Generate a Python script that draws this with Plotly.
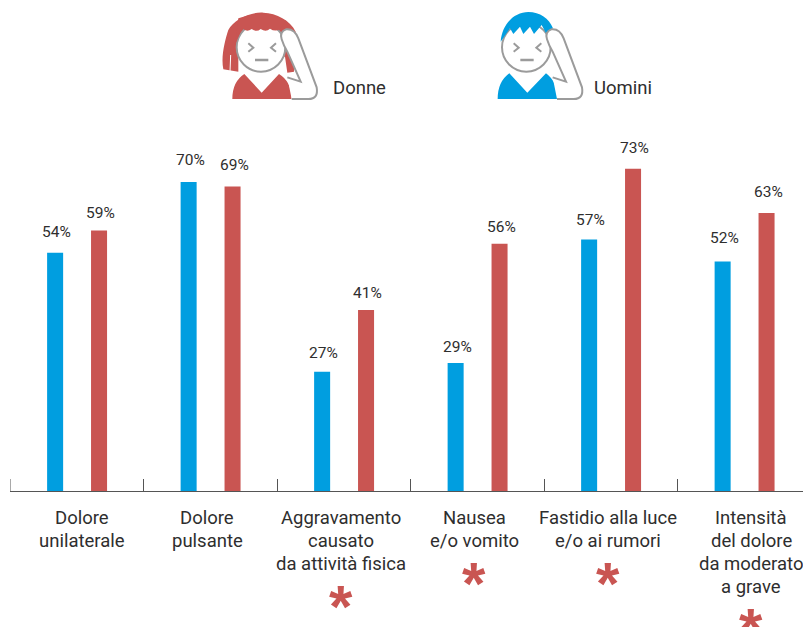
import plotly.graph_objects as go

categories = ["Dolore<br>unilaterale", "Dolore<br>pulsante", "Aggravamento<br>causato<br>da attività fisica",
              "Nausea<br>e/o vomito", "Fastidio alla luce<br>e/o ai rumori", "Intensità<br>del dolore<br>da moderato<br>a grave"]
uomini = [54, 70, 27, 29, 57, 52]
donne = [59, 69, 41, 56, 73, 63]
significant = [False, False, True, True, True, True]
BLUE = "#009EE0"
RED = "#C95552"
GREY = "#9B9B9B"
TXT = "#2E2E2E"
FONT = "Roboto"
W, H = 803, 627
x = list(range(len(categories)))
# layout nudges, in pixels, for the hand-placed labels of the original
label_dx = [5.5, -3, -3, -3, -3, 7]
gap_u = [21, 22, 19, 16, 19, 23]
gap_d = [18, 21, 17, 17, 21, 21]

fig = go.Figure()
fig.add_bar(x=x, y=uomini, width=0.12, offset=-0.222, marker_color=BLUE, marker_line_width=0, name="Uomini")
fig.add_bar(x=x, y=donne, width=0.12, offset=0.107, marker_color=RED, marker_line_width=0, name="Donne")

ann = []
for i, c in enumerate(categories):
    parts = c.split("<br>")
    for n, part in enumerate(parts):
        ann.append(dict(x=i, y=136 / H, xref="x", yref="paper", yanchor="middle", xanchor="center", showarrow=False,
                        text=part, xshift=label_dx[i], yshift=-(27 + 23 * n),
                        font=dict(size=18.5, color=TXT, family=FONT)))
    ann.append(dict(x=i - 0.15, y=uomini[i], text=f"{uomini[i]}%", showarrow=False, yanchor="middle", yshift=gap_u[i],
                    font=dict(size=15.5, color=TXT, family=FONT)))
    ann.append(dict(x=i + 0.18, y=donne[i], text=f"{donne[i]}%", showarrow=False, yanchor="middle", yshift=gap_d[i],
                    font=dict(size=15.5, color=TXT, family=FONT)))
    if significant[i]:
        ann.append(dict(x=i, y=136 / H, xref="x", yref="paper", yanchor="top", showarrow=False, text="<b>*</b>",
                        xshift=label_dx[i], yshift=-(12 + len(parts) * 23 - 1),
                        font=dict(size=60, color=RED, family="Liberation Sans")))
ann.append(dict(x=331 / W, y=1 - 88 / H, xref="paper", yref="paper", xanchor="left", yanchor="middle", showarrow=False,
                text="Donne", font=dict(size=18.5, color=TXT, family=FONT)))
ann.append(dict(x=592 / W, y=1 - 88 / H, xref="paper", yref="paper", xanchor="left", yanchor="middle", showarrow=False,
                text="Uomini", font=dict(size=18.5, color=TXT, family=FONT)))


def P(ox, scale=1 / 3):
    return lambda zx, zy: f"{(ox + zx * scale) / W:.5f},{1 - zy * scale / H:.5f}"


def path(fn, spec):
    return " ".join(tok if isinstance(tok, str) else fn(*tok) for tok in spec)


def shape(fn, spec, fill=None, line=None, lw=2):
    return dict(type="path", xref="paper", yref="paper", path=path(fn, spec),
                fillcolor=fill or "rgba(0,0,0,0)", line=dict(color=line or "rgba(0,0,0,0)", width=lw if line else 0))


def circle(cx, cy, r):
    k = 0.5523 * r
    return ["M", (cx - r, cy), "C", (cx - r, cy - k), (cx - k, cy - r), (cx, cy - r),
            "C", (cx + k, cy - r), (cx + r, cy - k), (cx + r, cy),
            "C", (cx + r, cy + k), (cx + k, cy + r), (cx, cy + r),
            "C", (cx - k, cy + r), (cx - r, cy + k), (cx - r, cy), "Z"]


def face_parts(fn, cx):
    return [
        shape(fn, ["M", (cx - 38, 130), "L", (cx - 23, 143), "L", (cx - 38, 155)], line=GREY),
        shape(fn, ["M", (cx + 45, 130), "L", (cx + 30, 143), "L", (cx + 45, 155)], line=GREY),
        shape(fn, ["M", (cx - 18, 180), "L", (cx + 22, 180)], line=GREY, lw=2.5),
    ]


def arm(fn):
    return shape(fn, ["M", (275, 297), "L", (325, 297), "Q", (356, 297), (350, 262), "L", (295, 115),
                      "Q", (283, 85), (258, 88), "Q", (238, 95), (245, 118), "Q", (250, 135), (262, 155),
                      "L", (302, 245), "L", (262, 232)], fill="white", line=GREY)


shapes = [dict(type="line", xref="x", yref="paper", x0=-0.5, x1=-0.5, y0=136 / H, y1=148 / H,
               line=dict(color="#555555", width=1))]
f = P(200)
shapes.append(shape(f, ["M", (70, 208), "C", (62, 170), (75, 120), (85, 90), "C", (100, 60), (150, 35), (190, 38),
                        "C", (230, 40), (270, 60), (287, 95), "L", (282, 215), "L", (262, 218), "L", (255, 170),
                        "L", (115, 170), "L", (115, 215), "Z"], fill=RED))
shapes.append(shape(f, ["M", (92, 165), "L", (90, 215)], line="white", lw=1))
shapes.append(shape(f, circle(183, 142, 73), fill="white", line=GREY))
shapes.append(shape(f, ["M", (105, 135), "L", (127, 85), "Q", (140, 98), (155, 87), "Q", (170, 98), (182, 87),
                        "Q", (198, 98), (210, 86), "Q", (225, 96), (240, 88), "L", (258, 62), "Q", (190, 28),
                        (115, 55), "Z"], fill=RED))
shapes.append(shape(f, ["M", (97, 297), "Q", (97, 245), (133, 222), "L", (185, 278), "L", (237, 222),
                        "Q", (275, 245), (275, 297), "Z"], fill=RED))
shapes.append(arm(f))
shapes += face_parts(f, 183)

g = P(470)
shapes.append(shape(g, circle(169, 142, 73), fill="white", line=GREY))
shapes.append(shape(g, ["M", (92, 125), "C", (96, 70), (135, 36), (175, 36), "C", (210, 36), (237, 55), (249, 85),
                        "L", (228, 100), "L", (215, 75), "L", (192, 102), "L", (180, 80), "L", (160, 102),
                        "L", (150, 80), "L", (130, 102), "L", (120, 85), "Z"], fill=BLUE))
shapes.append(shape(g, ["M", (83, 297), "Q", (83, 245), (118, 220), "L", (172, 278), "L", (228, 220),
                        "Q", (262, 245), (262, 297), "Z"], fill=BLUE))
shapes.append(arm(P(470 - 14 / 3)))
shapes += face_parts(g, 169)

fig.update_layout(
    width=W, height=H, margin=dict(l=0, r=0, t=0, b=0), plot_bgcolor="white", paper_bgcolor="white",
    showlegend=False, annotations=ann, shapes=shapes, barmode="overlay",
    xaxis=dict(domain=[10 / W, 1], range=[-0.5, 5.44], tickmode="array", tickvals=[0.5, 1.5, 2.5, 3.5, 4.5],
               ticktext=[""] * 5, ticks="inside", ticklen=12, tickcolor="#555555", tickwidth=1, showline=True,
               linecolor="#555555", linewidth=1, showgrid=False, zeroline=False),
    yaxis=dict(domain=[136 / H, 1], range=[0, 111.24], visible=False, showgrid=False),
)
fig.write_html("out.html", config=dict(displayModeBar=False), post_script="document.body.style.margin='0';")
